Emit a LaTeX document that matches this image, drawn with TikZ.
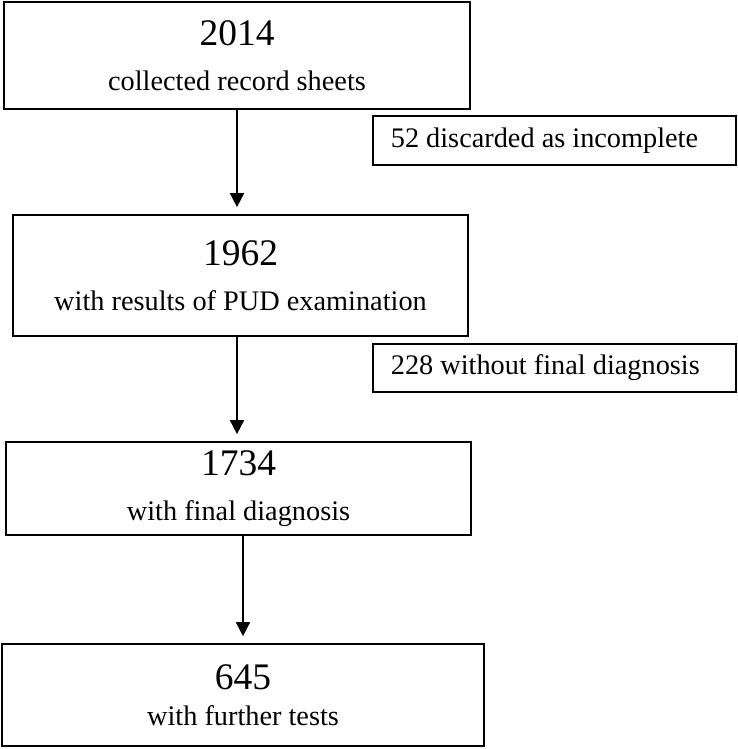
\documentclass[tikz,border=0pt]{standalone}
\usepackage{fontspec}
\setmainfont{Liberation Serif}
\usetikzlibrary{arrows.meta}

\tikzset{
	stage/.style={draw, line width=1.7pt, inner sep=0pt, align=center, font=\fontsize{28.3}{45}\selectfont},
	sidebox/.style={draw, line width=1.7pt, inner xsep=18pt, inner ysep=0pt, minimum height=49pt, text width=327pt, align=flush left, anchor=west, font=\fontsize{28.3}{34}\selectfont},
	flow/.style={-{Triangle[length=14pt,width=14pt]}, line width=1.7pt, shorten >=7pt}
}
\newcommand{\bignum}[1]{{\fontsize{37.5}{45}\selectfont #1}}

\begin{document}
\begin{tikzpicture}[x=1pt, y=-1pt]
	
	\useasboundingbox (0,0) rectangle (738,749);
	
	% Main stages
	\node[stage, minimum width=466pt, minimum height=107pt] (sheets) at (237,55.5) {\bignum{2014}\\collected record sheets};
	\node[stage, minimum width=455pt, minimum height=121pt] (pud) at (240.5,275.5) {\bignum{1962}\\with results of PUD examination};
	\node[stage, minimum width=465pt, minimum height=93pt] (diag) at (238.5,488.5) {\bignum{1734}\\with final diagnosis};
	\node[stage, minimum width=482pt, minimum height=102pt, font=\fontsize{28.3}{36}\selectfont] (tests) at (243,695) {\bignum{645}\\with further tests};
	
	% Excluded records
	\node[sidebox] (incomplete) at (372,140.5) {52 discarded as incomplete};
	\node[sidebox, minimum height=48pt] (nodiag) at (372,368) {228 without final diagnosis};
	
	% Flow arrows
	\draw[flow] (sheets.south) -- (sheets.south |- pud.north);
	\draw[flow] (sheets.south |- pud.south) -- (sheets.south |- diag.north);
	\draw[flow] (tests.north |- diag.south) -- (tests.north);
	
\end{tikzpicture}
\end{document}
